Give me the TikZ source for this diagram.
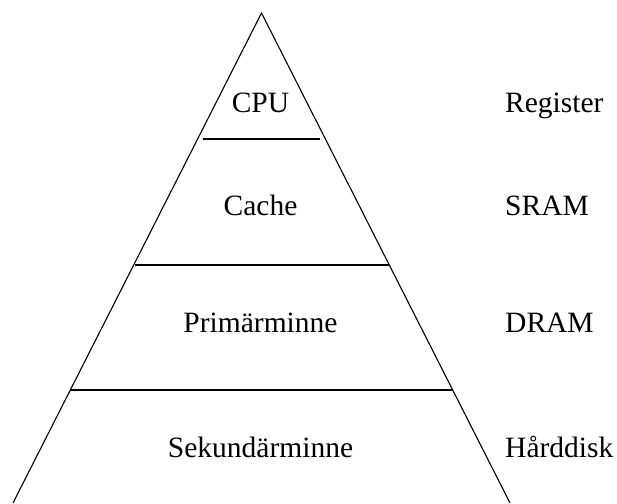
\documentclass[tikz,border=0pt]{standalone}
\usepackage{fontspec}
\setmainfont{Liberation Serif}
\begin{document}
\begin{tikzpicture}[x=1pt,y=-1pt,
  edge/.style={line width=1.1pt, black},
  level/.style={font=\fontsize{29.5}{34}\selectfont, inner sep=0pt, anchor=base},
  kind/.style={font=\fontsize{29.5}{34}\selectfont, inner sep=0pt, anchor=base west}]
\useasboundingbox (0,0) rectangle (617,503);

% pyramid outline
\coordinate (apex) at (261.5,13);
\coordinate (bl) at (13,503);
\coordinate (br) at (510,503);
\draw[edge] (bl) -- (apex) -- (br);

% level separators
\coordinate (s1l) at (203,139);  \coordinate (s1r) at (320,139);
\coordinate (s2l) at (134.5,265); \coordinate (s2r) at (388.5,265);
\coordinate (s3l) at (70,390);   \coordinate (s3r) at (452.5,390);
\draw[edge] (s1l) -- (s1r);
\draw[edge] (s2l) -- (s2r);
\draw[edge] (s3l) -- (s3r);

% levels of the hierarchy
\node[level] (cpu)   at (260.5,112) {CPU};
\node[level] (cache) at (260.5,215) {Cache};
\node[level] (prim)  at (260.5,332) {Primärminne};
\node[level] (sek)   at (260.5,457) {Sekundärminne};

% storage technology per level
\node[kind] (reg)  at (505,112) {Register};
\node[kind] (sram) at (505,215) {SRAM};
\node[kind] (dram) at (505,332) {DRAM};
\node[kind] (hd)   at (505,457) {Hårddisk};
\end{tikzpicture}
\end{document}
